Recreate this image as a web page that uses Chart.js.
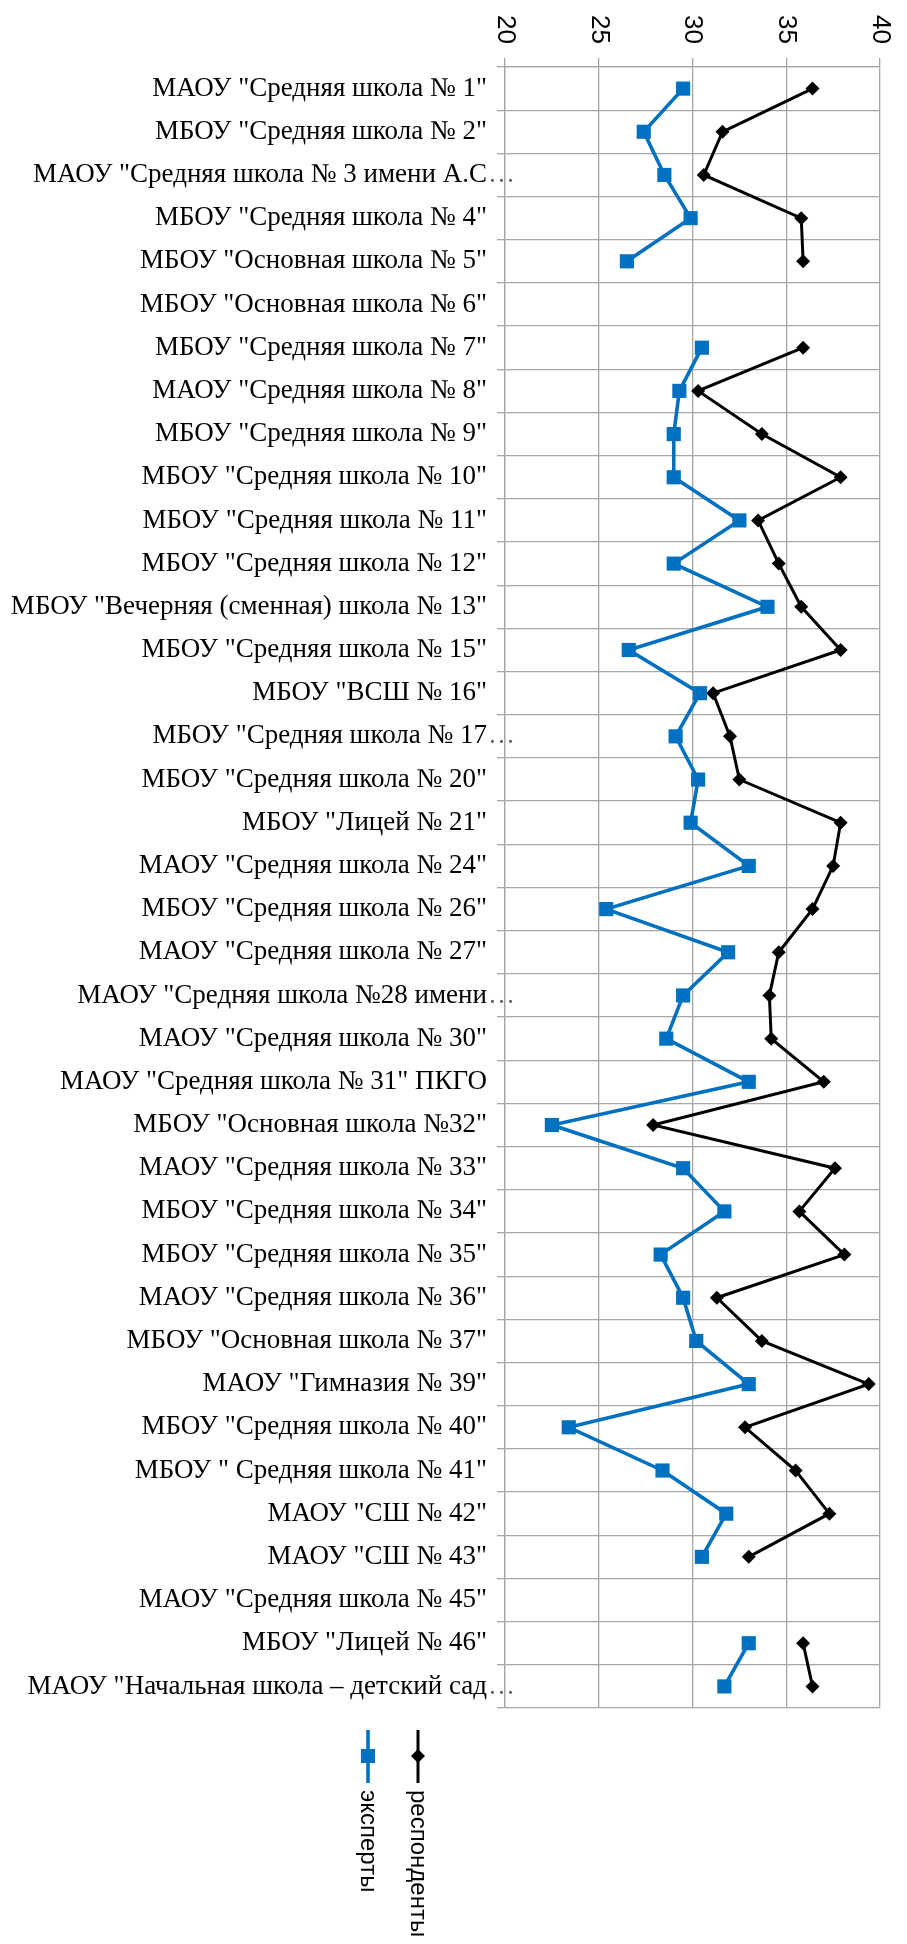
<!DOCTYPE html>
<html lang="ru">
<head>
<meta charset="utf-8">
<title>Эксперты и респонденты</title>
<script src="https://cdn.jsdelivr.net/npm/chart.js@4.4.1/dist/chart.umd.min.js"></script>
<style>
  html, body { margin: 0; padding: 0; background: #fff; }
  #wrap { width: 907px; height: 1944px; position: relative; }
</style>
</head>
<body>
<div id="wrap"><canvas id="schoolChart"></canvas></div>
<script>
const schools = [
  'МАОУ "Средняя школа № 1"',
  'МБОУ "Средняя школа № 2"',
  'МАОУ "Средняя школа № 3 имени А.С…',
  'МБОУ "Средняя школа № 4"',
  'МБОУ "Основная школа № 5"',
  'МБОУ "Основная школа № 6"',
  'МБОУ "Средняя школа № 7"',
  'МАОУ "Средняя школа № 8"',
  'МБОУ "Средняя школа № 9"',
  'МБОУ "Средняя школа № 10"',
  'МБОУ "Средняя школа № 11"',
  'МБОУ "Средняя школа № 12"',
  'МБОУ "Вечерняя (сменная) школа № 13"',
  'МБОУ "Средняя школа № 15"',
  'МБОУ "ВСШ № 16"',
  'МБОУ "Средняя школа № 17…',
  'МБОУ "Средняя школа № 20"',
  'МБОУ "Лицей № 21"',
  'МАОУ "Средняя школа № 24"',
  'МБОУ "Средняя школа № 26"',
  'МАОУ "Средняя школа № 27"',
  'МАОУ "Средняя школа №28 имени…',
  'МАОУ "Средняя школа № 30"',
  'МАОУ "Средняя школа № 31" ПКГО',
  'МБОУ "Основная школа №32"',
  'МАОУ "Средняя школа № 33"',
  'МБОУ "Средняя школа № 34"',
  'МБОУ "Средняя школа № 35"',
  'МАОУ "Средняя школа № 36"',
  'МБОУ "Основная школа № 37"',
  'МАОУ "Гимназия № 39"',
  'МБОУ "Средняя школа № 40"',
  'МБОУ " Средняя школа № 41"',
  'МАОУ "СШ № 42"',
  'МАОУ "СШ № 43"',
  'МАОУ "Средняя школа № 45"',
  'МБОУ "Лицей № 46"',
  'МАОУ "Начальная школа – детский сад…'
];

const experts = [
  29.5, 27.4, 28.5, 29.9, 26.5, null, 30.5, 29.3, 29.0, 29.0,
  32.5, 29.0, 34.0, 26.6, 30.4, 29.1, 30.3, 29.9, 33.0, 25.4,
  31.9, 29.5, 28.6, 33.0, 22.5, 29.5, 31.7, 28.3, 29.5, 30.2,
  33.0, 23.4, 28.4, 31.8, 30.5, null, 33.0, 31.7
];

const respondents = [
  36.4, 31.6, 30.6, 35.8, 35.9, null, 35.9, 30.3, 33.7, 37.9,
  33.5, 34.6, 35.8, 37.9, 31.1, 32.0, 32.5, 37.9, 37.5, 36.4,
  34.6, 34.1, 34.2, 37.0, 27.9, 37.6, 35.7, 38.1, 31.3, 33.7,
  39.4, 32.8, 35.5, 37.3, 33.0, null, 35.9, 36.4
];

const xTicks = [20, 25, 30, 35, 40];
const seriesNames = ["эксперты", "респонденты"];

const ELL = "…";
const labelFont = "27px 'Liberation Serif'";

// --- Подписи оси X сверху, повёрнутые на 90° ---
const topTickLabels = {
  id: "topTickLabels",
  afterDraw(chart) {
    const sc = chart.scales.x;
    const ctx = chart.ctx;
    ctx.save();
    ctx.fillStyle = "#000";
    ctx.font = "26px 'Liberation Sans'";
    ctx.textAlign = "left";
    ctx.textBaseline = "middle";
    xTicks.forEach(v => {
      const x = sc.getPixelForValue(v);
      ctx.save();
      ctx.translate(x, 15);
      ctx.rotate(Math.PI / 2);
      ctx.fillText(String(v), 0, 0);
      ctx.restore();
    });
    ctx.restore();
  }
};

// --- Многоточие у обрезанных названий (как в Excel — вылезает за край) ---
const overflowEllipsis = {
  id: "overflowEllipsis",
  afterDraw(chart) {
    const sc = chart.scales.y;
    const ctx = chart.ctx;
    const xRight = sc.right - 8 - 10;
    ctx.save();
    ctx.font = labelFont;
    ctx.fillStyle = "#666";
    ctx.textAlign = "left";
    ctx.textBaseline = "middle";
    schools.forEach((s, i) => {
      if (s.endsWith(ELL)) {
        ctx.fillText(ELL, xRight + 1, sc.getPixelForValue(i));
      }
    });
    ctx.restore();
  }
};

// --- Легенда внизу, тоже повёрнутая ---
const rotatedLegend = {
  id: "rotatedLegend",
  afterDraw(chart) {
    const ctx = chart.ctx;
    const xs = [368, 418];
    const top = chart.chartArea.bottom + 22;
    chart.data.datasets.forEach((ds, i) => {
      const x = xs[i];
      ctx.save();
      ctx.strokeStyle = ds.borderColor;
      ctx.fillStyle = ds.backgroundColor;
      ctx.lineWidth = ds.borderWidth;
      ctx.beginPath();
      ctx.moveTo(x, top);
      ctx.lineTo(x, top + 53);
      ctx.stroke();
      Chart.helpers.drawPoint(ctx, {
        pointStyle: ds.pointStyle,
        radius: ds.pointRadius,
        rotation: 0,
        borderWidth: 0
      }, x, top + 26);
      ctx.fillStyle = "#000";
      ctx.font = "24px 'Liberation Sans'";
      ctx.textAlign = "left";
      ctx.textBaseline = "middle";
      ctx.translate(x, top + 60);
      ctx.rotate(Math.PI / 2);
      ctx.fillText(ds.label, 0, 0);
      ctx.restore();
    });
  }
};

document.addEventListener("DOMContentLoaded", () => {
  const ctx = document.getElementById("schoolChart").getContext("2d");
  new Chart(ctx, {
    type: "line",
    data: {
      labels: schools,
      datasets: [
        {
          label: seriesNames[0],
          data: experts,
          borderColor: "#0070C0",
          backgroundColor: "#0070C0",
          borderWidth: 3.6,
          pointStyle: "rect",
          pointRadius: 10,
          pointBorderWidth: 0,
          pointHoverRadius: 10
        },
        {
          label: seriesNames[1],
          data: respondents,
          borderColor: "#000000",
          backgroundColor: "#000000",
          borderWidth: 3,
          pointStyle: "rectRot",
          pointRadius: 7,
          pointBorderWidth: 0,
          pointHoverRadius: 7
        }
      ]
    },
    options: {
      indexAxis: "y",
      responsive: true,
      maintainAspectRatio: false,
      animation: false,
      layout: { padding: { left: 0, right: 27, top: 0, bottom: 236 } },
      plugins: {
        legend: { display: false },
        tooltip: { enabled: false }
      },
      scales: {
        x: {
          type: "linear",
          position: "top",
          min: 20,
          max: 40,
          ticks: { display: false, stepSize: 5 },
          grid: { color: "#a6a6a6", lineWidth: 1.3, tickLength: 9 },
          border: { color: "#a6a6a6", width: 1.3 },
          afterFit(scale) { scale.height = 67; }
        },
        y: {
          type: "category",
          offset: true,
          grid: { offset: true, color: "#a6a6a6", lineWidth: 1.3, tickLength: 8 },
          border: { color: "#a6a6a6", width: 1.3 },
          ticks: {
            autoSkip: false,
            color: "#000",
            padding: 10,
            font: { family: "'Liberation Serif'", size: 27 },
            callback(value) {
              const s = this.getLabelForValue(value);
              return s.endsWith(ELL) ? s.slice(0, -1) : s;
            }
          },
          afterFit(scale) { scale.width = 505; }
        }
      }
    },
    plugins: [topTickLabels, overflowEllipsis, rotatedLegend]
  });
});
</script>
</body>
</html>
